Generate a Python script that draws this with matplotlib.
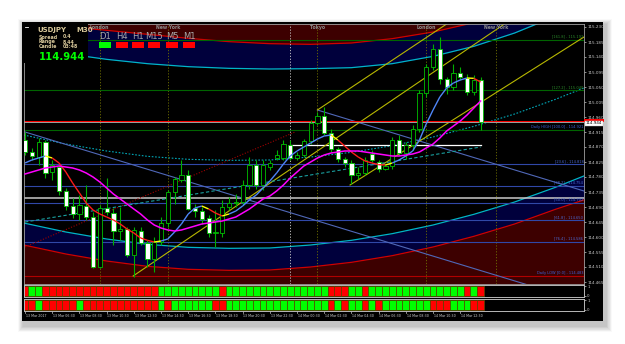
import matplotlib
matplotlib.use("Agg")
import matplotlib.pyplot as plt
import matplotlib.transforms as mtransforms
from matplotlib.patches import Rectangle
from matplotlib.collections import LineCollection
import numpy as np

# USDJPY M30, 13 Mar 04:30 .. 14 Mar 14:00
opens = [114.891, 114.855, 114.840, 114.885, 114.795, 114.810, 114.738, 114.693, 114.669, 114.693,
         114.660, 114.510, 114.687, 114.672, 114.618, 114.624, 114.546, 114.618, 114.582, 114.534,
         114.585, 114.642, 114.735, 114.771, 114.786, 114.687, 114.678, 114.657, 114.612, 114.612,
         114.690, 114.702, 114.705, 114.756, 114.816, 114.756, 114.810, 114.837, 114.837, 114.876,
         114.837, 114.846, 114.888, 114.942, 114.963, 114.912, 114.864, 114.834, 114.822, 114.786,
         114.792, 114.849, 114.825, 114.804, 114.813, 114.891, 114.852, 114.876, 114.924, 115.032,
         115.110, 115.164, 115.074, 115.050, 115.092, 115.077, 115.035, 115.071]
highs = [114.915, 114.867, 114.897, 114.891, 114.831, 114.816, 114.747, 114.717, 114.726, 114.756,
         114.675, 114.696, 114.777, 114.687, 114.690, 114.630, 114.630, 114.630, 114.590, 114.600,
         114.660, 114.740, 114.780, 114.830, 114.800, 114.700, 114.690, 114.665, 114.680, 114.710,
         114.720, 114.730, 114.770, 114.840, 114.830, 114.830, 114.830, 114.860, 114.890, 114.890,
         114.855, 114.895, 114.950, 114.975, 114.990, 114.925, 114.870, 114.840, 114.830, 114.810,
         114.840, 114.860, 114.830, 114.820, 114.900, 114.905, 114.885, 114.935, 115.040, 115.120,
         115.180, 115.200, 115.080, 115.120, 115.110, 115.090, 115.085, 115.080]
lows = [114.846, 114.831, 114.816, 114.777, 114.771, 114.726, 114.681, 114.657, 114.651, 114.651,
        114.507, 114.507, 114.666, 114.576, 114.590, 114.540, 114.480, 114.575, 114.510, 114.495,
        114.575, 114.630, 114.700, 114.765, 114.680, 114.660, 114.640, 114.600, 114.570, 114.600,
        114.680, 114.690, 114.695, 114.745, 114.745, 114.740, 114.800, 114.830, 114.830, 114.830,
        114.830, 114.840, 114.880, 114.935, 114.905, 114.855, 114.825, 114.810, 114.760, 114.775,
        114.785, 114.825, 114.795, 114.800, 114.805, 114.845, 114.835, 114.860, 114.915, 115.020,
        115.100, 115.060, 115.030, 115.040, 115.070, 115.025, 115.025, 114.920]
closes = [114.855, 114.843, 114.885, 114.792, 114.816, 114.738, 114.693, 114.669, 114.696, 114.660,
          114.510, 114.687, 114.675, 114.618, 114.624, 114.546, 114.621, 114.582, 114.534, 114.585,
          114.642, 114.735, 114.774, 114.786, 114.684, 114.678, 114.654, 114.612, 114.615, 114.690,
          114.702, 114.705, 114.756, 114.816, 114.756, 114.816, 114.822, 114.846, 114.879, 114.837,
          114.846, 114.888, 114.942, 114.963, 114.912, 114.864, 114.834, 114.822, 114.786, 114.792,
          114.831, 114.831, 114.804, 114.813, 114.891, 114.852, 114.876, 114.924, 115.032, 115.110,
          115.164, 115.074, 115.050, 115.092, 115.080, 115.035, 115.071, 114.944]

ma_fast = [114.822, 114.831, 114.837, 114.843, 114.837, 114.822, 114.795, 114.762, 114.732, 114.702,
           114.681, 114.669, 114.660, 114.651, 114.639, 114.624, 114.612, 114.597, 114.590, 114.585,
           114.588, 114.594, 114.615, 114.639, 114.669, 114.687, 114.693, 114.684, 114.672, 114.663,
           114.669, 114.678, 114.693, 114.711, 114.726, 114.747, 114.768, 114.792, 114.819, 114.843,
           114.858, 114.870, 114.882, 114.894, 114.903, 114.906, 114.891, 114.873, 114.855, 114.840,
           114.828, 114.822, 114.817, 114.816, 114.822, 114.831, 114.843, 114.858, 114.891, 114.939,
           114.981, 115.020, 115.047, 115.062, 115.071, 115.077, 115.076, 115.065]
ma_slow = [114.789, 114.795, 114.801, 114.807, 114.810, 114.813, 114.810, 114.807, 114.801, 114.792,
           114.780, 114.765, 114.747, 114.729, 114.714, 114.699, 114.684, 114.669, 114.651, 114.636,
           114.627, 114.621, 114.618, 114.621, 114.627, 114.633, 114.639, 114.642, 114.645, 114.648,
           114.654, 114.660, 114.672, 114.684, 114.699, 114.714, 114.723, 114.738, 114.756, 114.777,
           114.795, 114.813, 114.825, 114.837, 114.846, 114.852, 114.855, 114.858, 114.858, 114.858,
           114.855, 114.852, 114.849, 114.846, 114.843, 114.843, 114.846, 114.849, 114.855, 114.867,
           114.879, 114.897, 114.918, 114.933, 114.948, 114.966, 114.987, 115.008]

# 1 = green, 0 = red
panel1 = [0, 1, 1, 0, 0, 0, 0, 0, 0, 0, 0, 0, 0, 0, 0, 0, 0, 0, 0, 0,
          1, 1, 1, 1, 1, 1, 1, 1, 1, 0, 1, 1, 1, 1, 1, 1, 1, 1, 1, 1,
          1, 1, 1, 1, 1, 0, 0, 0, 1, 1, 0, 1, 1, 1, 1, 1, 1, 1, 1, 1,
          1, 1, 1, 1, 1, 0, 1, 0]
panel2 = [0, 0, 1, 0, 0, 0, 0, 0, 1, 0, 0, 0, 0, 0, 0, 0, 0, 0, 0, 0,
          1, 0, 1, 1, 1, 1, 1, 1, 0, 0, 1, 1, 1, 1, 1, 1, 1, 1, 1, 1,
          1, 1, 1, 1, 1, 0, 1, 0, 1, 1, 0, 1, 0, 1, 1, 1, 1, 1, 1, 1,
          0, 0, 0, 1, 1, 1, 0, 0]

# polynomial regression channel, sampled
reg_x = [-0.2, 6, 12, 18, 24, 30, 36, 42, 48, 54, 60, 66, 72, 78, 82.3]
reg_upper2 = [115.245, 115.232, 115.220, 115.208, 115.196, 115.186, 115.180, 115.178, 115.182, 115.195,
              115.215, 115.243, 115.275, 115.310, 115.340]
reg_upper1 = [115.165, 115.150, 115.133, 115.120, 115.111, 115.106, 115.104, 115.105, 115.108, 115.120,
              115.142, 115.172, 115.212, 115.262, 115.300]
reg_mid = [114.906, 114.879, 114.858, 114.842, 114.833, 114.830, 114.831, 114.840, 114.854, 114.874,
           114.900, 114.932, 114.969, 115.013, 115.048]
reg_lower1 = [114.642, 114.615, 114.594, 114.578, 114.569, 114.566, 114.567, 114.576, 114.590, 114.610,
              114.636, 114.668, 114.705, 114.749, 114.784]
reg_lower2 = [114.576, 114.549, 114.528, 114.512, 114.503, 114.500, 114.501, 114.510, 114.524, 114.544,
              114.570, 114.602, 114.639, 114.683, 114.712]

# daily fibo levels
fib_prices = [115.192, 115.040, 114.921, 114.818, 114.754, 114.702, 114.650, 114.586, 114.483]
fib_texts = ["[161.8] - 115.192", "[127.2] - 115.040", "Daily HIGH [100.0] - 114.921",
             "[23.6] - 114.818", "[38.2] - 114.754", "[50.0] - 114.702", "[61.8] - 114.650",
             "[76.4] - 114.586", "Daily LOW [0.0] - 114.483"]
fib_line_colors = ["#006400", "#006400", "#006400", "#3048a8", "#3048a8", "#3048a8", "#3048a8",
                   "#3048a8", "#b00000"]
fib_text_colors = ["#2a8a2a", "#2a8a2a", "#3a62d8", "#4a68d0", "#4a68d0", "#4a68d0", "#4a68d0",
                   "#4a68d0", "#3a62d8"]

# trend lines: (x0, y0, x1, y1)
blue_lines = [(0, 114.915, 82.2, 114.405), (43, 114.981, 82.2, 114.738)]
yellow_lines = [(43, 114.981, 62, 115.239), (15.9, 114.483, 70.5, 115.239), (47.8, 114.756, 82.2, 115.200)]
red_dotted = (0, 114.570, 39.7, 114.915)
cyan_dashed = (0, 114.645, 67, 114.870)

sessions = ["London", "New York", "Tokyo", "London", "New York"]
session_idx = [11, 21, 43, 59, 69.3]
day_sep = 39
day_open = 114.876

time_labels = ["13 Mar 2017", "13 Mar 06:30", "13 Mar 08:30", "13 Mar 10:30", "13 Mar 12:30",
               "13 Mar 14:30", "13 Mar 16:30", "13 Mar 18:30", "13 Mar 20:30", "13 Mar 22:30",
               "14 Mar 00:30", "14 Mar 02:30", "14 Mar 04:30", "14 Mar 06:30", "14 Mar 08:30",
               "14 Mar 10:30", "14 Mar 12:30"]
time_idx = [0, 4, 8, 12, 16, 20, 24, 28, 32, 36, 40, 44, 48, 52, 56, 60, 64]
price_ticks = [114.465, 114.510, 114.555, 114.600, 114.645, 114.690, 114.735, 114.780, 114.825,
               114.870, 114.915, 114.960, 115.005, 115.050, 115.095, 115.140, 115.185, 115.230]
bid = 114.944
ask = 114.948
pivot = 114.717

timeframes = ["D1", "H4", "H1", "M15", "M5", "M1"]
tf_state = [1, 0, 0, 0, 0, 0]

W, H = 625, 344
fig = plt.figure(figsize=(W / 100, H / 100), dpi=100)
fig.patch.set_facecolor("white")


def frac(x0, y0, x1, y1):
    return [x0 / W, (H - y1) / H, (x1 - x0) / W, (y1 - y0) / H]


# window + shadow
bg = fig.add_axes([0, 0, 1, 1])
bg.set_xlim(0, W)
bg.set_ylim(H, 0)
bg.axis("off")
for s in range(1, 11):
    bg.add_patch(Rectangle((22 - s * 0.5 + 1, 22 - s * 0.5 + 2), 581 + s * 1.1 + 2, 299 + s * 1.1 + 3,
                           color="black", alpha=0.022, lw=0))
bg.add_patch(Rectangle((22, 22), 581, 299, color="black", lw=0))

XMIN, XMAX = -0.15, 82.2
ax = fig.add_axes(frac(24, 24, 584, 284))
ax.set_facecolor("black")
ax.set_xlim(XMIN, XMAX)
ax.set_ylim(114.459, 115.239)

# regression bands
ax.fill_between(reg_x, reg_upper2, 115.5, color="#3d0000", lw=0, zorder=0)
ax.fill_between(reg_x, reg_upper1, reg_upper2, color="#00003c", lw=0, zorder=0)
ax.fill_between(reg_x, reg_lower2, reg_lower1, color="#00003c", lw=0, zorder=0)
ax.fill_between(reg_x, 114.2, reg_lower2, color="#3d0000", lw=0, zorder=0)
ax.plot(reg_x, reg_upper2, color="#d00000", lw=0.9, zorder=1)
ax.plot(reg_x, reg_lower2, color="#d00000", lw=0.9, zorder=1)
ax.plot(reg_x, reg_upper1, color="#00b4c8", lw=0.9, zorder=1)
ax.plot(reg_x, reg_lower1, color="#00b4c8", lw=0.9, zorder=1)
ax.plot(reg_x, reg_mid, color="#00a8b8", lw=0.8, ls=(0, (1.5, 1.5)), zorder=1)

# session separators
for name, i in zip(sessions, session_idx):
    ax.axvline(i, color="#707000", lw=0.6, ls=(0, (1.5, 2)), zorder=1)
    ax.text(i, 115.228, name, ha="center", va="center", fontsize=3.3, fontweight="bold",
            color="#8c8c8c", zorder=6)
ax.axvline(day_sep, color="#d0d0d0", lw=0.6, ls=(0, (1.5, 2)), zorder=1)

# fibo levels
for p, t, lc, tc in zip(fib_prices, fib_texts, fib_line_colors, fib_text_colors):
    ax.axhline(p, color=lc, lw=0.8, zorder=1)
    ax.text(XMAX - 0.1, p + 0.004, t, ha="right", va="bottom", fontsize=2.6, color=tc, zorder=6)

ax.axhline(pivot, color="#c8c8c8", lw=1.1, zorder=1)
ax.plot([day_sep, len(closes) - 1], [day_open, day_open], color="white", lw=0.9, zorder=2)

# trend lines
for x0, y0, x1, y1 in blue_lines:
    ax.plot([x0, x1], [y0, y1], color="#5068b8", lw=0.8, zorder=2)
for x0, y0, x1, y1 in yellow_lines:
    ax.plot([x0, x1], [y0, y1], color="#b8b800", lw=0.8, zorder=2)
ax.plot(red_dotted[::2], red_dotted[1::2], color="#a00000", lw=0.8, ls=(0, (1, 1.5)), zorder=2)
ax.plot(cyan_dashed[::2], cyan_dashed[1::2], color="#1aa0a0", lw=0.8, ls=(0, (3, 2)), zorder=2)

ax.axhline(ask, color="#ff0000", lw=0.7, zorder=2)
ax.axhline(bid, color="#a0a0a0", lw=0.7, zorder=2)

# candles
idx = np.arange(len(closes))
ax.vlines(idx, lows, highs, color="#00b000", lw=0.8, zorder=3)
for i in idx:
    o, c = opens[i], closes[i]
    bottom = min(o, c)
    h = max(abs(c - o), 0.0015)
    face = "black" if c >= o else "white"
    ax.add_patch(Rectangle((i - 0.31, bottom), 0.62, h, facecolor=face, edgecolor="#00c000",
                           lw=0.6, zorder=4))

# moving averages, colour follows slope
fast = np.array(ma_fast)
d = np.diff(fast)
segs, cols = [], []
for k in range(len(d)):
    up = d[k] > 0
    prev_up = (d[k - 1] > 0) if k else up
    segs.append([(k, fast[k]), (k + 1, fast[k + 1])])
    if up != prev_up:
        cols.append("#ffff00")
    else:
        cols.append("#4f86f7" if up else "#ff1a1a")
ax.add_collection(LineCollection(segs, colors=cols, lw=1.0, zorder=5))
ax.plot(idx, ma_slow, color="#ff00ff", lw=1.1, zorder=5)

ax.yaxis.tick_right()
ax.set_yticks(price_ticks)
ax.set_yticklabels([f"{p:.3f}" for p in price_ticks])
ax.tick_params(axis="y", labelsize=3, colors="#c8c8c8", length=1.5, width=0.5, pad=1)
ax.set_xticks([])
for sp in ax.spines.values():
    sp.set_color("#a0a0a0")
    sp.set_linewidth(0.6)

# indicator panels
for k, (vals, rect) in enumerate([(panel1, frac(24, 285, 584, 297)), (panel2, frac(24, 299, 584, 311))]):
    p = fig.add_axes(rect)
    p.set_facecolor("black")
    p.set_xlim(XMIN, XMAX)
    p.set_ylim(-0.12, 1.12)
    colors = ["#00ff00" if v else "#ff0000" for v in vals]
    p.bar(idx, np.ones(len(vals)), bottom=0, width=1.0, color=colors, edgecolor="#5a4a00", lw=0.5)
    p.yaxis.tick_right()
    p.set_yticks([0, 1])
    p.set_yticklabels(["0", "1"])
    p.tick_params(axis="y", labelsize=2.8, colors="#c8c8c8", length=1.2, width=0.5, pad=1)
    p.set_xticks([])
    for sp in p.spines.values():
        sp.set_color("#b8b8b8")
        sp.set_linewidth(0.7)
    if k == 1:
        trans = mtransforms.blended_transform_factory(p.transData, p.transAxes)
        for i, lab in zip(time_idx, time_labels):
            p.text(i + 0.1, -0.42, lab, transform=trans, ha="left", va="center", fontsize=2.35,
                   color="#d0d0d0", clip_on=False)
            p.plot([i, i], [0, -0.15], transform=trans, color="#c8c8c8", lw=0.5, clip_on=False)

# overlay: info box, timeframe boxes, price label
ov = fig.add_axes([0, 0, 1, 1])
ov.set_xlim(0, W)
ov.set_ylim(H, 0)
ov.axis("off")
ov.add_patch(Rectangle((22, 22), 66, 41, color="black", lw=0))
ov.plot([25, 28], [27, 27], color="white", lw=0.6)
beige = "#d8c89a"
ov.text(37, 30, "USDJPY", fontsize=5, fontweight="bold", color=beige, va="center")
ov.text(76, 30, "M30", fontsize=5, fontweight="bold", color=beige, va="center")
for y, k, v in [(37, "Spread", "0.4"), (42, "Range", "8.44"), (47, "Candle", "03:48")]:
    ov.text(39, y, k, fontsize=3.4, fontweight="bold", color=beige, va="center")
    ov.text(63, y, v, fontsize=3.4, fontweight="bold", color=beige, va="center")
ov.text(39, 57.5, "114.944", fontsize=7.2, fontweight="bold", color="#00ff00", va="center")

tf_x = [99, 116, 132, 148, 166, 183]
for x, t, s in zip(tf_x, timeframes, tf_state):
    ov.text(x + 6, 36.5, t, fontsize=6, color="#a8a8a8", ha="center", va="center")
    ov.add_patch(Rectangle((x, 42), 12, 5.5, color="#00ff00" if s else "#ff0000", lw=0))

ov.add_patch(Rectangle((584, 119.3), 20, 2.2, color="#ff0000", lw=0))
ov.add_patch(Rectangle((585, 120.5), 18, 5.5, facecolor="white", edgecolor="#c0c0c0", lw=0.3))
ov.text(594, 123.3, f"{bid:.3f}", fontsize=3, color="black", ha="center", va="center")

fig.savefig("out.png", dpi=100, facecolor="white")
